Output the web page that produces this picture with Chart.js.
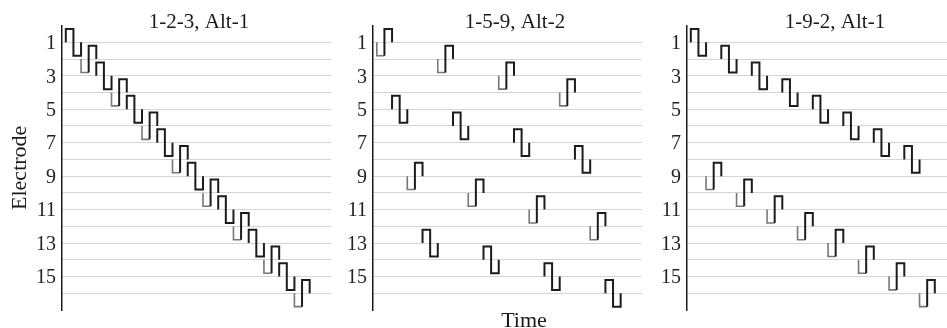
<!DOCTYPE html>
<html>
<head>
    <meta charset="utf-8" />
    <title>Stimulation order</title>
    <style>
        body { margin: 0; background: #fff; width: 947px; height: 328px; overflow: hidden; position: relative; }
        canvas { position: absolute; top: 0; }
    </style>
</head>
<body>
    <canvas id="panel1" width="340" height="328" style="left:0px"></canvas>
    <canvas id="panel2" width="340" height="328" style="left:311px"></canvas>
    <canvas id="panel3" width="322" height="328" style="left:625px"></canvas>

    <script src="https://cdn.jsdelivr.net/npm/chart.js@4.4.1/dist/chart.umd.min.js"></script>
    <script>
        // one pulse per electrode, listed in firing order; time is in phase widths
        const panelTitles = ['1-2-3, Alt-1', '1-5-9, Alt-2', '1-9-2, Alt-1'];
        const startTimes = [0, 2, 4, 6, 8, 10, 12, 14, 16, 18, 20, 22, 24, 26, 28, 30];

        const order123 = [1, 2, 3, 4, 5, 6, 7, 8, 9, 10, 11, 12, 13, 14, 15, 16];
        const lead123 = ['up', 'down', 'up', 'down', 'up', 'down', 'up', 'down',
                         'up', 'down', 'up', 'down', 'up', 'down', 'up', 'down'];

        const order159 = [1, 5, 9, 13, 2, 6, 10, 14, 3, 7, 11, 15, 4, 8, 12, 16];
        const lead159 = ['down', 'up', 'down', 'up', 'down', 'up', 'down', 'up',
                         'down', 'up', 'down', 'up', 'down', 'up', 'down', 'up'];

        const order192 = [1, 9, 2, 10, 3, 11, 4, 12, 5, 13, 6, 14, 7, 15, 8, 16];
        const lead192 = ['up', 'down', 'up', 'down', 'up', 'down', 'up', 'down',
                         'up', 'down', 'up', 'down', 'up', 'down', 'up', 'down'];

        const tickLabels = ['1', '3', '5', '7', '9', '11', '13', '15'];
        const amplitude = 0.8;   // electrode spacings
        const phaseWidth = 1;

        const serif = "'Liberation Serif', 'Times New Roman', serif";

        // draws panel title (and the shared x label) where the figure has them
        const panelText = {
            id: 'panelText',
            afterDraw(chart, args, opts) {
                const ctx = chart.ctx;
                ctx.save();
                ctx.fillStyle = '#1a1a1a';
                ctx.textAlign = 'center';
                ctx.textBaseline = 'alphabetic';
                ctx.font = '21px ' + serif;
                ctx.fillText(opts.title, opts.titleX, 28);
                if (opts.xLabel) {
                    ctx.font = '22px ' + serif;
                    ctx.fillText(opts.xLabel, opts.xLabelX, 327);
                }
                ctx.restore();
            }
        };

        function buildPulses(order, lead) {
            return order.map((electrode, i) => {
                const t = startTimes[i];
                const s = lead[i] === 'up' ? -1 : 1;
                const first = electrode + s * amplitude;
                const second = electrode - s * amplitude;
                const grayLead = lead[i] === 'down';
                return {
                    data: [
                        { x: t, y: electrode },
                        { x: t, y: first },
                        { x: t + phaseWidth, y: first },
                        { x: t + phaseWidth, y: second },
                        { x: t + 2 * phaseWidth, y: second },
                        { x: t + 2 * phaseWidth, y: electrode }
                    ],
                    borderColor: '#1c1c1c',
                    borderWidth: 2,
                    borderJoinStyle: 'miter',
                    pointRadius: 0,
                    fill: false,
                    tension: 0,
                    segment: {
                        borderColor: c => (grayLead && c.p0DataIndex < 2) ? '#777777' : undefined,
                        borderWidth: c => (grayLead && c.p0DataIndex < 2) ? 1.6 : undefined
                    }
                };
            });
        }

        function drawPanel(id, idx, order, lead, xMax, padRight, textOpts) {
            const showAxisTitle = idx === 0;
            new Chart(document.getElementById(id), {
                type: 'line',
                data: { datasets: buildPulses(order, lead) },
                options: {
                    responsive: false,
                    animation: false,
                    layout: { padding: { left: 0, right: padRight, top: 25.6, bottom: 12.2 } },
                    plugins: {
                        legend: { display: false },
                        tooltip: { enabled: false },
                        panelText: textOpts
                    },
                    scales: {
                        x: { type: 'linear', min: -0.5, max: xMax, display: false },
                        y: {
                            type: 'linear',
                            min: 0,
                            max: 17,
                            reverse: true,
                            afterFit: (s) => { s.width = 62; },
                            ticks: {
                                stepSize: 1,
                                autoSkip: false,
                                padding: 6,
                                labelOffset: 1.5,
                                color: '#222',
                                font: { family: serif, size: 20 },
                                callback: (v) => tickLabels.includes(String(v)) ? String(v) : ''
                            },
                            grid: {
                                drawTicks: false,
                                lineWidth: 1,
                                color: (c) => (c.tick && c.tick.value >= 1 && c.tick.value <= 16) ? '#d4d4d4' : 'rgba(0,0,0,0)'
                            },
                            border: { display: true, color: '#1a1a1a', width: 1.5 },
                            title: {
                                display: showAxisTitle,
                                text: 'Electrode',
                                color: '#1a1a1a',
                                font: { family: serif, size: 22 },
                                padding: { top: 7, bottom: 0 }
                            }
                        }
                    }
                },
                plugins: [panelText]
            });
        }

        drawPanel('panel1', 0, order123, lead123, 34.8, 9, { title: panelTitles[0], titleX: 199 });
        drawPanel('panel2', 1, order159, lead159, 34.8, 9, { title: panelTitles[1], titleX: 204, xLabel: 'Time', xLabelX: 213 });
        drawPanel('panel3', 2, order192, lead192, 33.6, 0, { title: panelTitles[2], titleX: 210 });
    </script>
</body>
</html>
